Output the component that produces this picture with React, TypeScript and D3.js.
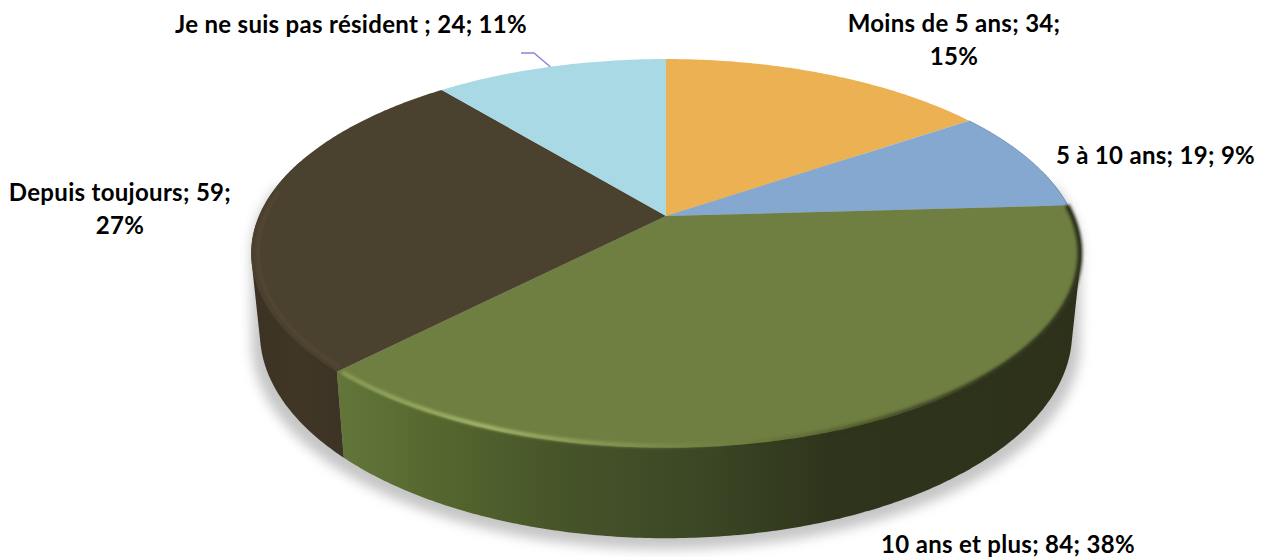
import React from "react";
import * as d3 from "d3";

const categories = ["Moins de 5 ans", "5 à 10 ans", "10 ans et plus", "Depuis toujours", "Je ne suis pas résident "];
const values = [34, 19, 84, 59, 24];
const topColors = ["#ecb152", "#84a8cf", "#6f7f41", "#4a412f", "#a8d9e5"];
const sideColors = ["#b98a40", "#66829f", "url(#greenSide)", "url(#brownSide)", "#83a9b3"];
const labelLines = [
  ["Moins de 5 ans; 34;", "15%"],
  ["5 à 10 ans; 19; 9%"],
  ["10 ans et plus; 84; 38%"],
  ["Depuis toujours; 59;", "27%"],
  ["Je ne suis pas résident ; 24; 11%"],
];
const labelAnchors: [number, number][] = [
  [954, 32],
  [1155.5, 164],
  [1008, 553],
  [120, 201],
  [351, 33],
];

const W = 1265;
const H = 557;
const persp = 0.1926;

type Plane = { cx: number; cy: number; R: number; S: number };
const topPlane: Plane = { cx: 666, cy: 216, R: 407, S: 187.2 };
const basePlane: Plane = { cx: 666, cy: 293, R: 398.5, S: 198 };

function project(p: Plane, a: number, r = 1): [number, number] {
  const u = r * Math.sin(a);
  const v = r * Math.cos(a);
  const w = 1 + persp * v;
  return [p.cx + (p.R * u) / w, p.cy - (p.S * v) / w];
}

function arcPts(p: Plane, a0: number, a1: number, r = 1): [number, number][] {
  const n = Math.max(2, Math.ceil(Math.abs(a1 - a0) / 0.01));
  return d3.range(n + 1).map((i) => project(p, a0 + ((a1 - a0) * i) / n, r));
}

const line = d3.line<[number, number]>();
const pie = d3.pie<number>().sort(null).value((d) => d);

export default function App() {
  const arcs = pie(values);
  const greenArc = arcs[2];
  const brownArc = arcs[3];
  const blueArc = arcs[1];
  const cyan = arcs[4];
  const leaderEnd = project(topPlane, (cyan.startAngle + cyan.endAngle) / 2);
  const leader: [number, number][] = [
    [521, 53],
    [534, 53],
    leaderEnd,
  ];
  const shadowPts = [
    ...arcPts({ ...basePlane, cy: basePlane.cy + 11, R: basePlane.R + 8 }, 0, Math.PI * 2),
    ...arcPts(topPlane, Math.PI * 0.45, Math.PI * 1.55),
  ];
  const shadowHull = d3.polygonHull(shadowPts) as [number, number][];
  return (
    <svg
      width={W}
      height={H}
      viewBox={`0 0 ${W} ${H}`}
      style={{ position: "absolute", left: 0, top: 0, display: "block", background: "#fff" }}
    >
      <defs>
        <linearGradient id="greenSide" gradientUnits="userSpaceOnUse" x1={340} x2={1080} y1={0} y2={0}>
          <stop offset="0" stopColor="#62763a" />
          <stop offset="0.12" stopColor="#56682f" />
          <stop offset="0.3" stopColor="#465429" />
          <stop offset="0.5" stopColor="#3b4625" />
          <stop offset="0.66" stopColor="#2f351c" />
          <stop offset="1" stopColor="#2d311a" />
        </linearGradient>
        <linearGradient id="brownSide" gradientUnits="userSpaceOnUse" x1={250} x2={346} y1={0} y2={0}>
          <stop offset="0" stopColor="#3b3223" />
          <stop offset="0.5" stopColor="#403626" />
          <stop offset="1" stopColor="#3d3324" />
        </linearGradient>
        <linearGradient id="greenHi" gradientUnits="userSpaceOnUse" x1={340} x2={760} y1={0} y2={0}>
          <stop offset="0" stopColor="#8ea35a" stopOpacity="0.9" />
          <stop offset="0.35" stopColor="#a9bd70" stopOpacity="1" />
          <stop offset="0.7" stopColor="#8a9d58" stopOpacity="0.7" />
          <stop offset="1" stopColor="#6f7f41" stopOpacity="0" />
        </linearGradient>
        <linearGradient id="greenDark" gradientUnits="userSpaceOnUse" x1={740} x2={1000} y1={0} y2={0}>
          <stop offset="0" stopColor="#2d311a" stopOpacity="0" />
          <stop offset="1" stopColor="#2d311a" stopOpacity="1" />
        </linearGradient>
        <filter id="shadowBlur" filterUnits="userSpaceOnUse" x={200} y={40} width={940} height={517}>
          <feGaussianBlur stdDeviation="6" />
        </filter>
        <filter id="rimBlur" filterUnits="userSpaceOnUse" x={200} y={40} width={940} height={500}>
          <feGaussianBlur stdDeviation="1.7" />
        </filter>
      </defs>

      {/* drop shadow under the disc */}
      <path d={line(shadowHull)! + "Z"} fill="#bcbcbc" opacity={0.85} filter="url(#shadowBlur)" />

      {/* outer wall: hull of the top and bottom arcs, the top face hides the inner chord */}
      {arcs.map((d, i) => {
        const s = Math.max(d.startAngle, Math.PI * 0.42);
        const e = Math.min(d.endAngle, Math.PI * 1.6);
        if (e <= s) return null;
        const hull = d3.polygonHull([...arcPts(topPlane, s, e), ...arcPts(basePlane, s, e)]) as [number, number][];
        return <path key={categories[i]} d={line(hull)! + "Z"} fill={sideColors[i]} />;
      })}

      {/* top face */}
      {arcs.map((d, i) => (
        <path
          key={categories[i]}
          d={line([[666, 216], ...arcPts(topPlane, d.startAngle, d.endAngle)])! + "Z"}
          fill={topColors[i]}
        />
      ))}

      {/* bevel */}
      <path
        d={line(arcPts(topPlane, brownArc.startAngle + 0.01, brownArc.endAngle - 0.75, 0.985))!}
        fill="none"
        stroke="#5a4d38"
        strokeWidth={2.5}
        filter="url(#rimBlur)"
        opacity={0.75}
      />
      <path
        d={line(arcPts(topPlane, blueArc.startAngle, blueArc.endAngle, 1))!}
        fill="none"
        stroke="#5f7d9b"
        strokeWidth={1}
        opacity={0.6}
      />
      <path
        d={line(arcPts(topPlane, greenArc.startAngle, greenArc.endAngle, 0.998))!}
        fill="none"
        stroke="url(#greenDark)"
        strokeWidth={5}
        filter="url(#rimBlur)"
      />
      <path
        d={line(arcPts(topPlane, greenArc.endAngle - 0.01, greenArc.startAngle + 1.5, 0.993))!}
        fill="none"
        stroke="url(#greenHi)"
        strokeWidth={3.6}
        filter="url(#rimBlur)"
      />

      {/* leader line */}
      <path d={line(leader)!} fill="none" stroke="#8a84d6" strokeWidth={1.4} />

      {/* labels */}
      {labelLines.map((lines, i) => (
        <text
          key={categories[i]}
          textAnchor="middle"
          fontFamily="Lato, 'Open Sans', sans-serif"
          fontWeight={700}
          fontSize={24}
          letterSpacing={0.3}
          fill="#000"
        >
          {lines.map((t, j) => (
            <tspan key={t} x={labelAnchors[i][0]} y={labelAnchors[i][1] + j * 33}>
              {t}
            </tspan>
          ))}
        </text>
      ))}
    </svg>
  );
}
